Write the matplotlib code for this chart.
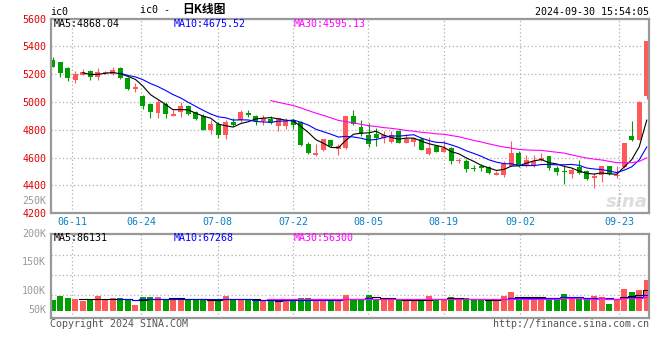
import numpy as np
import pandas as pd
import matplotlib.pyplot as plt

# daily bars, ic0 continuous contract
opens = [5302, 5288, 5245, 5155, 5195, 5226, 5179, 5210, 5200, 5245,
         5174, 5090, 5045, 4988, 4921, 4988, 4898, 4929, 4969, 4926,
         4898, 4802, 4840, 4762, 4857, 4874, 4921, 4902, 4862, 4876,
         4826, 4831, 4869, 4857, 4695, 4619, 4652, 4724, 4664, 4671,
         4898, 4819, 4762, 4767, 4738, 4714, 4790, 4707, 4712, 4733,
         4626, 4686, 4643, 4669, 4576, 4579, 4524, 4543, 4531, 4476,
         4472, 4543, 4636, 4538, 4538, 4581, 4610, 4526, 4507, 4479,
         4533, 4502, 4452, 4474, 4538, 4467, 4533, 4752, 4729, 5045]
highs = [5326, 5290, 5255, 5226, 5238, 5231, 5243, 5226, 5255, 5250,
         5183, 5136, 5052, 4990, 5017, 5000, 4945, 5000, 4981, 4933,
         4914, 4874, 4855, 4874, 4886, 4945, 4940, 4907, 4910, 4902,
         4888, 4886, 4881, 4860, 4714, 4695, 4731, 4726, 4695, 4898,
         4945, 4874, 4850, 4810, 4790, 4790, 4802, 4767, 4738, 4745,
         4745, 4690, 4726, 4674, 4600, 4590, 4548, 4555, 4543, 4507,
         4579, 4719, 4650, 4621, 4621, 4633, 4614, 4538, 4550, 4526,
         4581, 4510, 4490, 4538, 4540, 4543, 4705, 4860, 5007, 5436]
lows = [5248, 5183, 5148, 5133, 5195, 5160, 5155, 5200, 5195, 5164,
        5086, 5069, 4950, 4883, 4886, 4888, 4898, 4895, 4905, 4874,
        4798, 4769, 4740, 4731, 4826, 4855, 4893, 4833, 4833, 4843,
        4790, 4807, 4803, 4686, 4624, 4612, 4648, 4680, 4619, 4660,
        4838, 4755, 4679, 4683, 4707, 4707, 4702, 4702, 4683, 4652,
        4621, 4640, 4643, 4555, 4560, 4500, 4505, 4507, 4479, 4472,
        4464, 4538, 4531, 4531, 4533, 4574, 4510, 4474, 4407, 4455,
        4479, 4438, 4383, 4424, 4474, 4455, 4526, 4717, 4729, 5021]
closes = [5248, 5210, 5174, 5202, 5217, 5183, 5217, 5212, 5231, 5171,
          5090, 5107, 4969, 4926, 4998, 4912, 4917, 4974, 4917, 4881,
          4802, 4845, 4761, 4857, 4833, 4929, 4910, 4862, 4886, 4850,
          4888, 4860, 4833, 4690, 4631, 4631, 4731, 4683, 4683, 4898,
          4845, 4771, 4695, 4738, 4762, 4762, 4707, 4733, 4738, 4657,
          4667, 4643, 4669, 4579, 4581, 4519, 4517, 4526, 4488, 4490,
          4555, 4636, 4538, 4583, 4574, 4598, 4526, 4495, 4495, 4514,
          4490, 4443, 4467, 4538, 4479, 4476, 4705, 4729, 5002, 5436]
volumes = [45000, 62000, 53000, 49000, 41000, 43000, 62000, 43000, 53000, 53000,
           45000, 24000, 58000, 58000, 58000, 49000, 52000, 49000, 43000, 43000,
           49000, 49000, 43000, 62000, 43000, 49000, 43000, 39000, 43000, 43000,
           43000, 49000, 41000, 53000, 53000, 49000, 43000, 43000, 43000, 66000,
           49000, 49000, 66000, 49000, 49000, 49000, 43000, 43000, 39000, 43000,
           62000, 49000, 49000, 58000, 43000, 53000, 49000, 43000, 43000, 43000,
           62000, 79000, 53000, 49000, 53000, 49000, 53000, 53000, 70000, 49000,
           49000, 43000, 62000, 58000, 28000, 45000, 91000, 80000, 87000, 129000]

date_labels = ['06-11', '06-24', '07-08', '07-22', '08-05', '08-19', '09-02', '09-23']
date_pos = [2.6, 11.8, 21.95, 32.0, 41.97, 52.0, 62.2, 75.35]
price_ticks = [4200, 4400, 4600, 4800, 5000, 5200, 5400, 5600]
vol_grid = [66000, 150000, 234000]
vol_labels = ['250K', '200K', '150K', '100K', '50K']
vol_label_y = [200.7, 234.3, 261.7, 290.7, 310.0]   # pixel rows, as sina draws them
ma_price_text = ['MA5:4868.04', 'MA10:4675.52', 'MA30:4595.13']
ma_vol_text = ['MA5:86131', 'MA10:67268', 'MA30:56300']
ma_windows = [5, 10, 30]

RED = '#ff5a5a'
GREEN = '#009e00'
MA_COLORS = ['black', '#0000ff', '#ff00ff']
FRAME = '#999999'
GRID = '#b0b0b0'
MONO = 'DejaVu Sans Mono'
FS = 7.2

W, H = 660, 360
o = np.array(opens, float)
c = np.array(closes, float)
x = np.arange(len(c))
colors = np.where(c >= o, RED, GREEN)

fig = plt.figure(figsize=(W / 100, H / 100), dpi=100)


def px(xp, yp):
    return xp / W, 1 - yp / H


def frame(a):
    for s in a.spines.values():
        s.set_color(FRAME)
        s.set_linewidth(1.6)
    a.tick_params(length=0)
    a.set_axisbelow(True)


# price panel
ax = fig.add_axes([50.7 / W, 1 - 213.3 / H, 598.6 / W, 194.8 / H])
ax.text(0.998, 0.01, 'sina', transform=ax.transAxes, ha='right', va='bottom',
        fontsize=13, style='italic', fontweight='bold', color='#dddddd', zorder=0)
ax.vlines(x, lows, highs, colors=colors, linewidth=0.8)
body = np.maximum(np.abs(c - o), 6)
ax.bar(x, body, bottom=np.minimum(o, c), width=0.66, color=colors, linewidth=0)
for n, col in zip(ma_windows, MA_COLORS):
    ax.plot(x, pd.Series(closes).rolling(n).mean(), color=col, lw=0.8)
ax.set_xlim(-0.27, 79.34)
ax.set_ylim(4200, 5600)
ax.set_yticks(price_ticks)
ax.set_yticklabels([str(t) for t in price_ticks], color='#e00000', family=MONO, fontsize=FS)
ax.set_xticks(date_pos)
ax.set_xticklabels(date_labels, color='#0a80c8', family=MONO, fontsize=FS)
ax.tick_params(axis='x', pad=3)
ax.tick_params(axis='y', pad=3)
for lab in ax.get_yticklabels():
    lab.set_y(lab.get_position()[1])
ax.grid(True, ls=(0, (1, 2)), color=GRID, lw=0.9)
frame(ax)

# volume panel
axv = fig.add_axes([50.7 / W, 1 - 318.3 / H, 598.6 / W, 84 / H])
axv.bar(x, volumes, width=0.8, color=colors, linewidth=0)
for n, col in zip(ma_windows, MA_COLORS):
    axv.plot(x, pd.Series(volumes).rolling(n).mean(), color=col, lw=0.8,
             drawstyle='steps-mid')
axv.set_xlim(-0.27, 79.34)
axv.set_ylim(-31920, 320880)
axv.set_yticks(vol_grid)
axv.set_yticklabels([])
axv.set_xticks(date_pos)
axv.set_xticklabels([])
axv.grid(True, ls=(0, (1, 2)), color=GRID, lw=0.9)
frame(axv)

# texts
for lab, yp in zip(vol_labels, vol_label_y):
    fig.text(*px(46, yp), lab, ha='right', va='center', color='#999999',
             family=MONO, fontsize=FS)
for t, xp, col in zip(ma_price_text, [54, 174, 294], MA_COLORS):
    fig.text(*px(xp, 24), t, ha='left', va='center', color=col, family=MONO, fontsize=FS)
for t, xp, col in zip(ma_vol_text, [54, 174, 294], MA_COLORS):
    fig.text(*px(xp, 238), t, ha='left', va='center', color=col, family=MONO, fontsize=FS)

fig.text(*px(50, 12), 'ic0', ha='left', va='center', family=MONO, fontsize=FS)
fig.text(*px(140, 10), 'ic0 - ', ha='left', va='center', family=MONO, fontsize=FS)
fig.text(*px(182, 10), '日K线图', ha='left', va='center',
         family=['Noto Sans CJK SC', 'DejaVu Sans'], fontsize=8.5, fontweight='bold')
fig.text(*px(649, 12), '2024-09-30 15:54:05', ha='right', va='center',
         family=MONO, fontsize=FS)
fig.text(*px(50, 324), 'Copyright 2024 SINA.COM', ha='left', va='center',
         color='#555555', family=MONO, fontsize=FS)
fig.text(*px(649, 324), 'http://finance.sina.com.cn', ha='right', va='center',
         color='#555555', family=MONO, fontsize=FS)

fig.savefig('out.png', dpi=100)
